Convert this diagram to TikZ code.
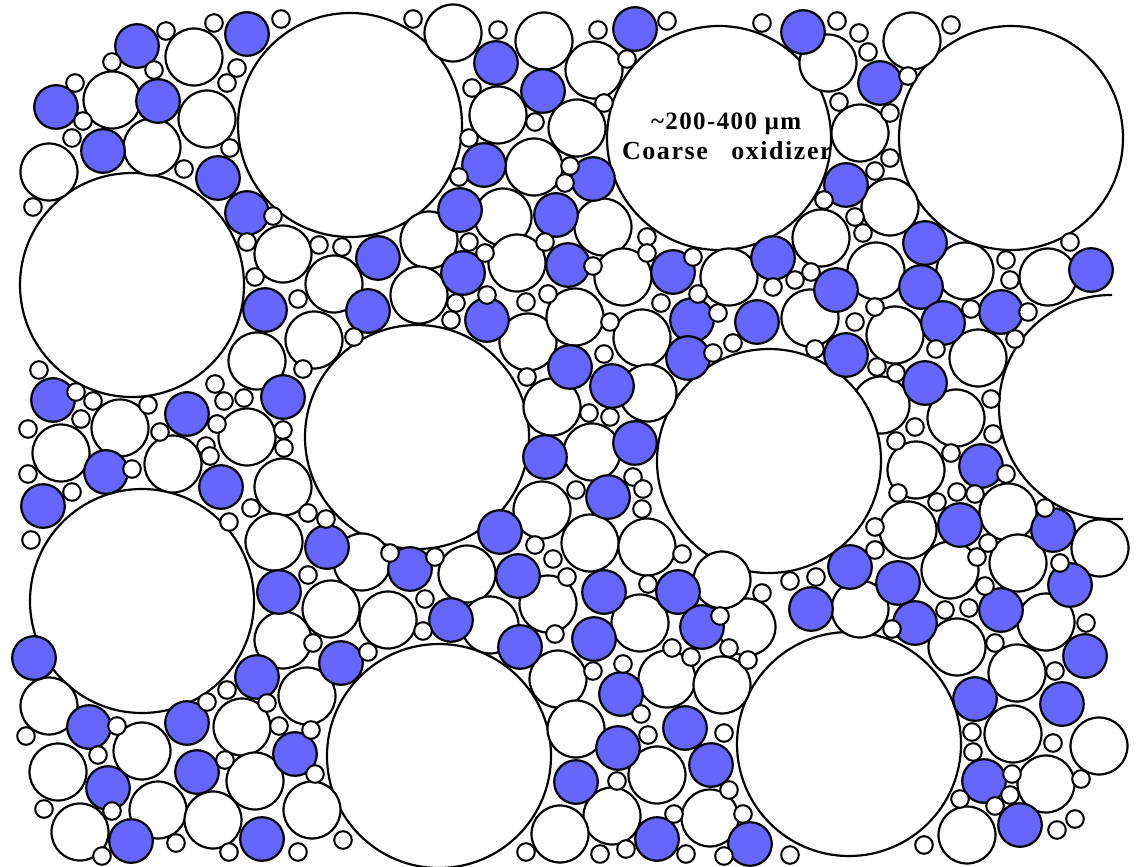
\documentclass[tikz,border=0pt]{standalone}
\usepackage{fontspec}
\setmainfont{Liberation Serif}
\definecolor{pblue}{RGB}{102,102,255}
\begin{document}
\begin{tikzpicture}[x=1pt,y=-1pt,line width=2.2pt,
  big/.style={draw=black,fill=white,line width=2.2pt},
  wc/.style={draw=black,fill=white},
  bc/.style={draw=black,fill=pblue},
  sc/.style={draw=black,fill=white,line width=2pt},
  lbl/.style={anchor=base west,inner sep=0pt}]
\useasboundingbox (0,0) rectangle (1138,867);
\clip (0,0) rectangle (1138,867);
\fill[white] (0,0) rectangle (1138,867);
% white circle lying partly behind a large one
\draw[wc] (881,405) circle (28.5);
% large circles
\foreach \x/\y in {350/125,719/138,1011/138,132/285,417/437,769/461,142/601,439/756,849/744}
  \draw[big] (\x,\y) circle (112);
\draw[big] (1112,295) -- (1111,295) arc[start angle=270,end angle=90,radius=112] -- (1123,519);
% medium white circles
\foreach \x/\y in {194/57,112/100,207/119,152/147,49/172,283/254,334/284,
  453/33,544/41,594/70,498/115,577/128,534/167,503/217,603/227,429/240,517/263,419/295,623/277,729/277,
  828/63,912/41,860/133,890/207,821/238,876/271,965/271,1048/277,
  314/340,257/361,120/428,61/453,173/464,247/437,283/487,274/542,362/562,
  528/342,575/317,642/338,648/393,552/407,592/452,542/510,590/543,647/547,467/574,
  810/318,895/335,978/358,956/418,916/470,1008/512,908/530,950/570,1018/563,1100/548,
  331/609,283/640,307/696,49/706,142/751,242/727,58/772,255/781,158/810,213/820,80/832,312/810,388/620,
  490/625,548/604,640/623,747/627,722/580,558/679,667/679,722/685,576/729,657/775,612/816,560/834,710/818,
  860/609,957/647,1046/622,1017/673,1013/734,1046/784,1099/746,967/835}
  \draw[wc] (\x,\y) circle (28.5);
% blue circles
\foreach \x/\y in {137/46,56/107,158/101,103/151,218/178,247/34,247/213,378/258,
  496/63,543/91,635/29,484/165,593/179,460/210,556/215,463/273,568/265,673/272,
  803/32,880/83,846/185,773/258,925/243,836/290,921/287,1091/270,
  265/310,368/311,53/400,187/414,283/397,106/472,221/487,43/506,327/547,
  487/320,570/367,612/386,692/320,688/358,757/322,545/457,635/443,608/497,500/532,518/576,410/569,
  846/355,943/323,1001/312,925/383,981/466,960/525,1053/530,850/567,898/583,1070/585,
  34/658,279/592,341/663,257/677,89/727,187/723,295/754,197/772,108/788,131/841,262/839,
  451/620,520/647,604/592,594/639,678/592,702/627,621/694,685/728,618/748,576/782,711/765,657/839,750/844,
  811/609,915/623,1001/610,1085/656,975/699,1062/704,984/781,1020/825}
  \draw[bc] (\x,\y) circle (21.8);
% small circles
\foreach \x/\y in {166/31,214/23,281/19,112/62,154/70,237/68,227/83,75/83,83/121,72/138,184/169,230/148,33/207,273/216,247/242,319/245,342/247,255/277,
  413/19,498/30,598/30,667/21,627/59,472/88,604/103,535/122,469/138,570/166,565/183,459/177,469/242,485/253,545/242,593/266,647/237,647/253,693/257,762/23,
  837/21,859/33,868/52,951/25,908/76,839/102,890/113,890/158,875/171,824/200,855/217,863/233,1070/242,1006/260,1010/280,811/272,795/280,773/287,
  39/370,76/392,93/401,81/419,28/429,148/405,160/432,215/384,224/401,244/398,217/424,298/299,354/337,303/369,283/430,284/448,206/446,210/456,132/469,28/474,72/492,31/540,251/508,229/522,308/513,326/519,308/575,
  456/303,451/320,487/295,526/302,548/294,610/322,604/354,527/377,589/413,610/417,661/303,698/294,718/313,733/343,713/353,633/477,643/489,642/509,576/490,535/545,553/559,390/553,435/557,682/554,567/577,
  875/307,855/322,815/349,877/367,896/373,971/309,1028/312,936/349,1015/339,991/399,993/434,915/427,896/441,951/453,1006/474,898/493,937/502,957/492,975/494,1045/508,875/527,875/550,988/543,977/557,1060/563,816/577,790/581,
  26/736,117/726,98/755,44/809,112/811,102/856,176/843,207/702,227/690,267/703,279/726,313/643,368/652,311/730,225/760,315/774,229/852,298/852,343/840,
  425/599,423/631,555/634,648/584,672/648,691/657,720/616,729/648,748/660,762/593,593/671,623/664,641/714,648/735,724/733,617/781,729/790,743/814,674/814,626/849,600/854,526/852,686/854,724/856,
  892/629,945/610,969/608,985/586,995/643,1086/623,1055/671,972/732,973/752,1053/743,1081/779,1012/774,1010/795,995/806,960/799,1075/819,1057/830,924/845,790/855}
  \draw[sc] (\x,\y) circle (8.8);
% label
\node[lbl,font=\fontsize{25}{30}\selectfont\bfseries\addfontfeature{LetterSpace=5.5}] (t1) at (650,129) {\textasciitilde 200-400 µm};
\node[lbl,font=\fontsize{26}{30}\selectfont\bfseries\addfontfeature{LetterSpace=6}] (t2) at (621,159) {Coarse\hspace{0.9em}oxidizer};
\end{tikzpicture}
\end{document}
